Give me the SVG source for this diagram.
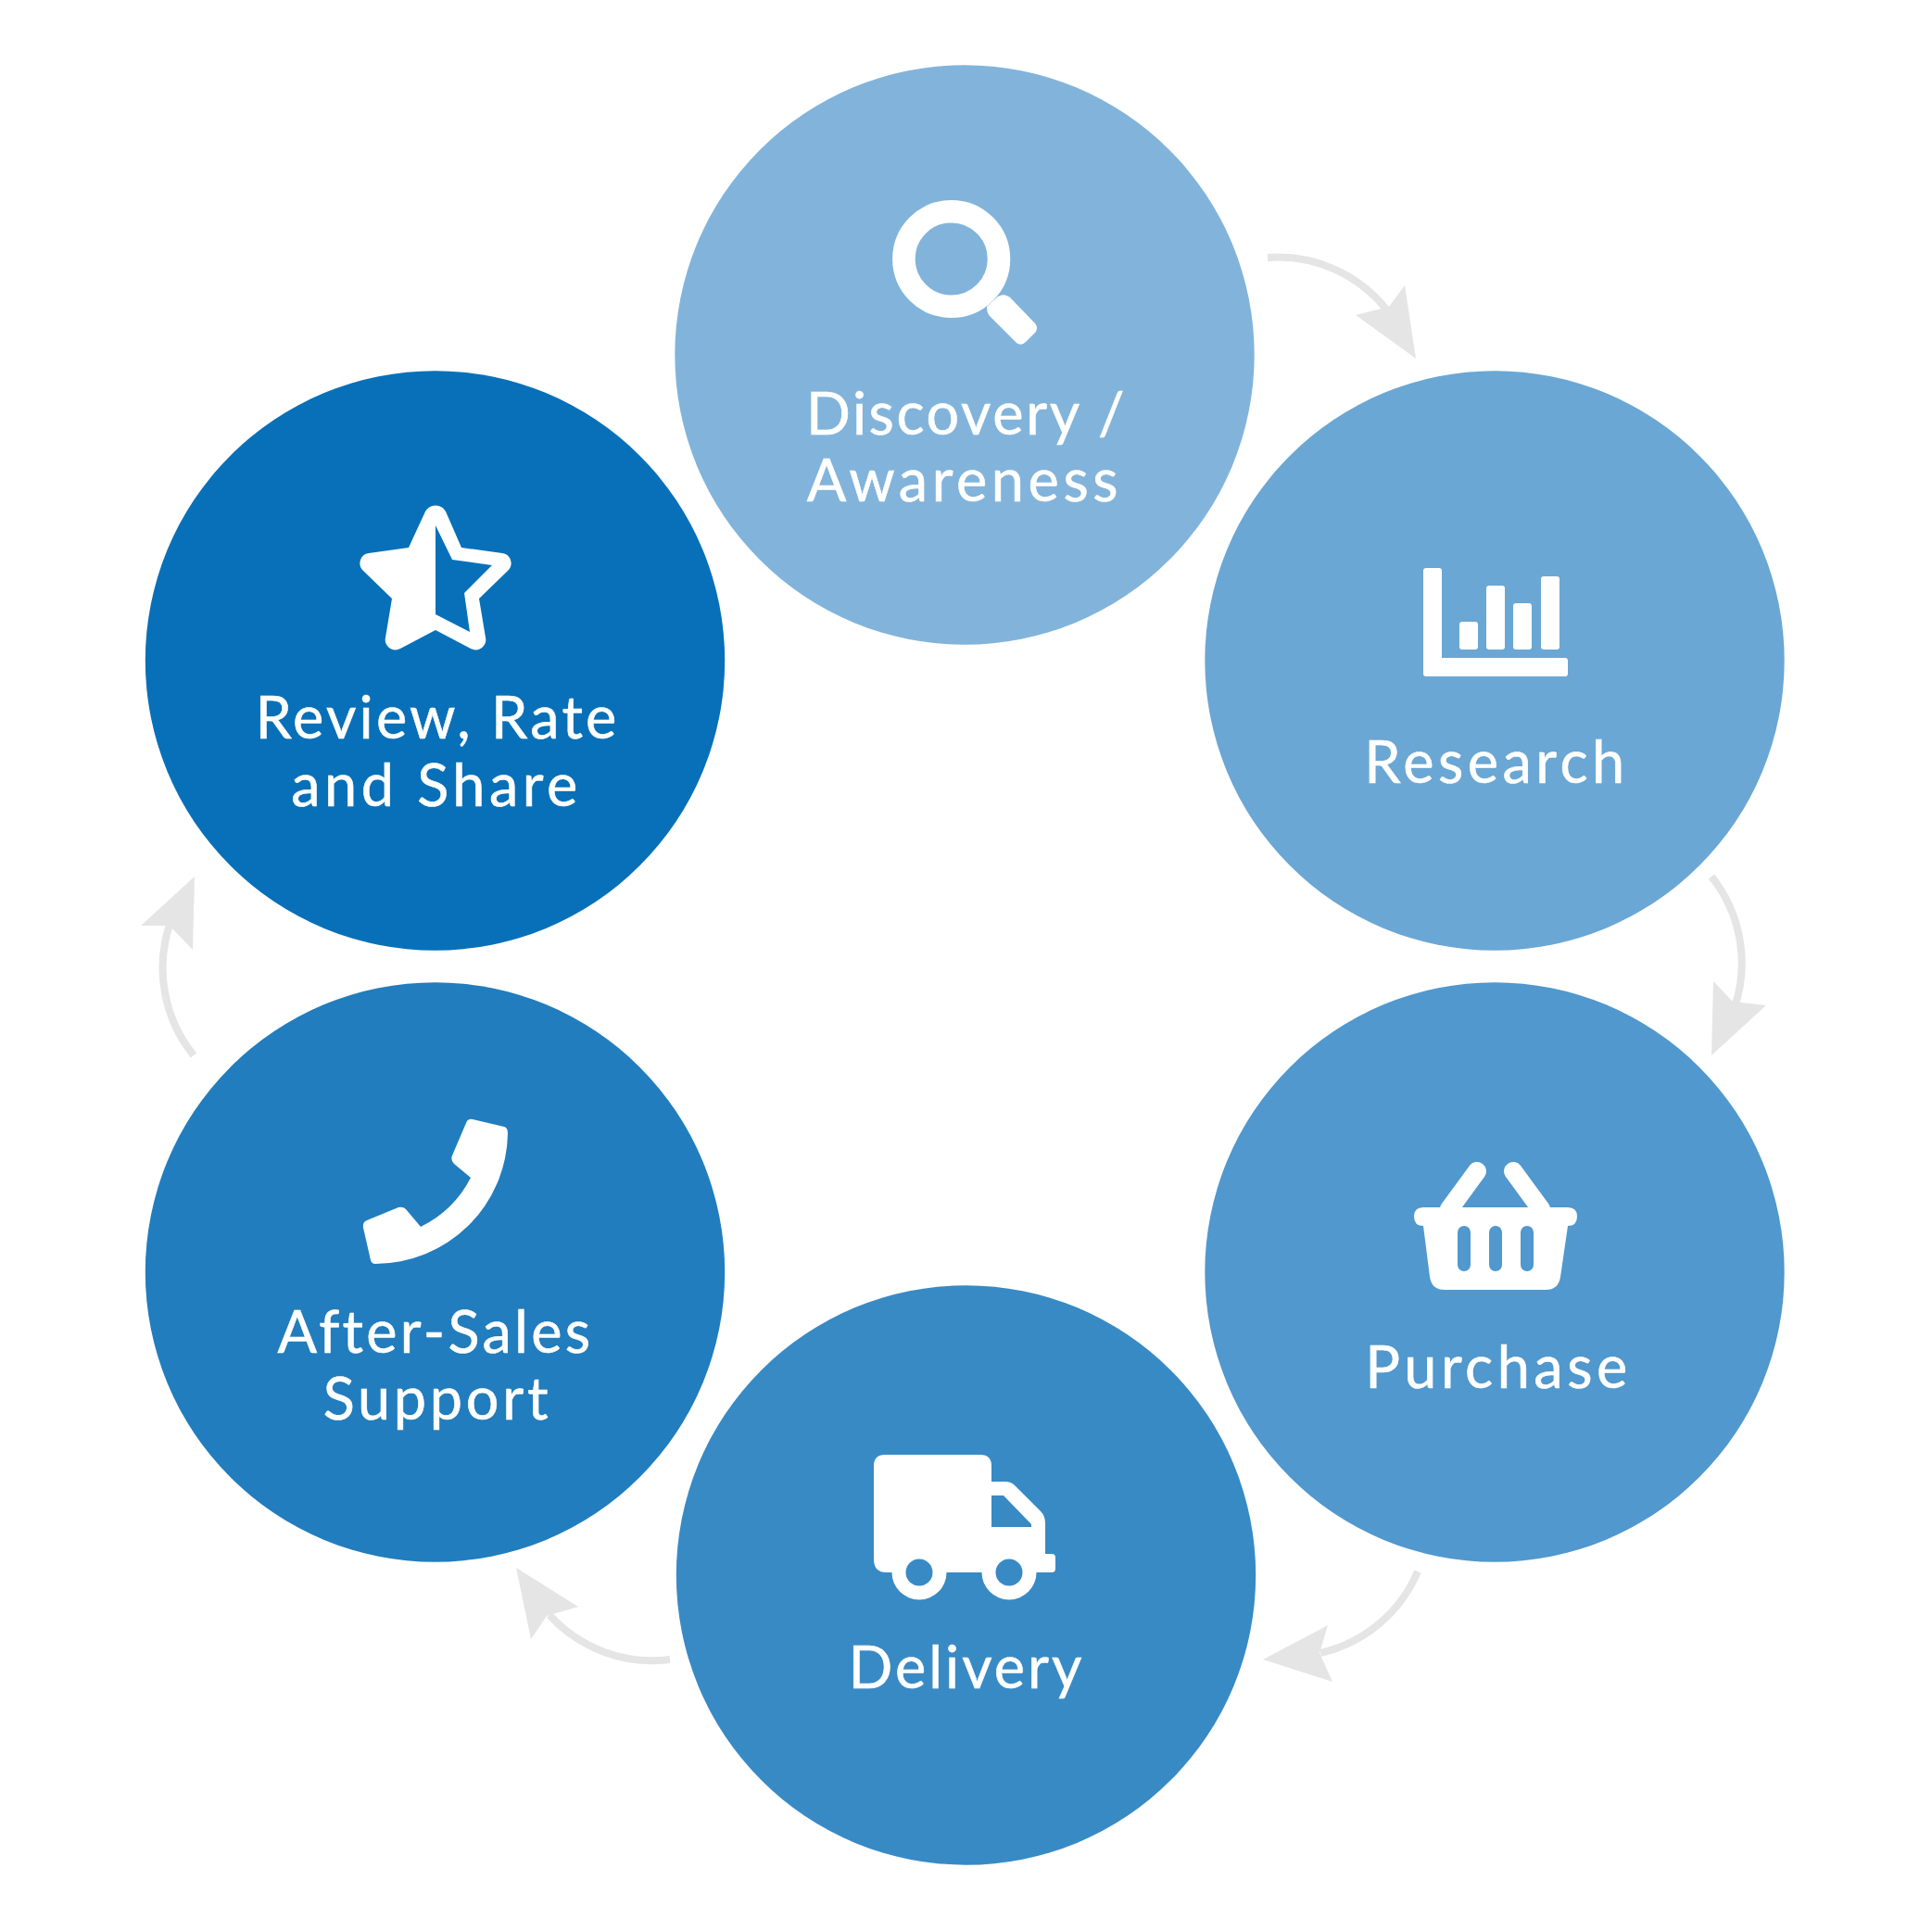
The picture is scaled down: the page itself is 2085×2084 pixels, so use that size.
<svg xmlns="http://www.w3.org/2000/svg" width="2085" height="2084" viewBox="0 0 2085 2084">
<style>
.lbl{font-family:"Lato","Liberation Sans",sans-serif;font-size:63px;fill:#fff;stroke:#fff;stroke-width:0.6px;text-anchor:middle}
.ic{fill:#fff}
.con{fill:none;stroke:#e5e5e5;stroke-width:8}
.hd{fill:#e5e5e5}
</style>
<rect width="2085" height="2084" fill="#fff"/>
<g id="connectors">
<path class="con" d="M1368 278A150 150 0 0 1 1497 335"/><polygon class="hd" points="1528,387 1516,308 1499,331 1463,340"/>
<path class="con" d="M1847 946A150 150 0 0 1 1873 1084"/><polygon class="hd" points="1847,1139 1849,1059 1870,1081 1906,1085"/>
<path class="con" d="M1530 1696A150 150 0 0 1 1425 1784"/><polygon class="hd" points="1363,1791 1433,1754 1424,1784 1438,1815"/>
<path class="con" d="M723 1791A150 150 0 0 1 593 1743"/><polygon class="hd" points="557,1692 573,1769 590,1744 624,1734"/>
<path class="con" d="M209 1139A150 150 0 0 1 183 998"/><polygon class="hd" points="210,946 152,999 183,999 208,1025"/>
</g>
<g id="discovery"><circle cx="1041" cy="383" r="312.7" fill="#82b4db"/>
<circle cx="1026.7" cy="279.500" r="51.300" fill="none" stroke="#fff" stroke-width="24.500"/>
<path class="ic" d="M1065 331L1077 320Q1084 316 1090 321L1117 349Q1121 354 1117 359L1107 369Q1102 374 1097 370L1068 341Q1065 338 1065 331Z"/>
<text class="lbl" x="1043" y="469" style="letter-spacing:2.600px">Discovery /</text><text class="lbl" x="1041" y="541" style="letter-spacing:4.600px">Awareness</text></g>
<g id="research"><circle cx="1613" cy="713" r="312.7" fill="#6aa7d4"/>
<path class="ic" d="M1539 613H1553Q1556 613 1556 616V710H1689Q1692 710 1692 713V727Q1692 730 1689 730H1539Q1536 730 1536 727V616Q1536 613 1539 613Z"/>
<rect class="ic" x="1575" y="671" width="20" height="30" rx="3"/><rect class="ic" x="1604" y="632" width="20" height="69" rx="3"/><rect class="ic" x="1633" y="651" width="20" height="50" rx="3"/><rect class="ic" x="1663" y="622" width="20" height="79" rx="3"/>
<text class="lbl" x="1615" y="845" style="letter-spacing:4.500px">Research</text></g>
<g id="purchase"><circle cx="1613" cy="1373" r="312.7" fill="#5098cd"/>
<path fill="none" stroke="#fff" stroke-width="20" stroke-linecap="round" d="M1594 1264L1564 1305M1633 1264L1663 1305"/>
<path class="ic" fill-rule="evenodd" d="M1536 1303H1692Q1702 1303 1702 1313Q1702 1323 1692 1323L1684 1378Q1682 1392 1668 1392H1559Q1545 1392 1543 1378L1536 1323Q1526 1323 1526 1313Q1526 1303 1536 1303ZM1573 1330V1365A7 7 0 0 0 1587 1365V1330A7 7 0 0 0 1573 1330ZM1607 1330V1365A7 7 0 0 0 1621 1365V1330A7 7 0 0 0 1607 1330ZM1641 1330V1365A7 7 0 0 0 1655 1365V1330A7 7 0 0 0 1641 1330Z"/>
<text class="lbl" x="1617" y="1498" style="letter-spacing:4.500px">Purchase</text></g>
<g id="delivery"><circle cx="1042.500" cy="1700" r="312.7" fill="#388ac5"/>
<path class="ic" fill-rule="evenodd" d="M955 1570H1058Q1070 1570 1070 1582V1599H1085Q1091 1599 1095 1603L1123 1631Q1128 1636 1128 1644V1677H1135Q1139 1677 1139 1681V1693Q1139 1697 1135 1697H1118.500A29.500 29.500 0 0 1 1059.500 1697H1021.500A29.500 29.500 0 0 1 962.500 1697H957Q943 1697 943 1683V1582Q943 1570 955 1570ZM1070 1614V1648H1113V1645L1083 1614Z"/>
<circle cx="992" cy="1697" r="14.500" fill="#388ac5"/><circle cx="1089" cy="1697" r="14.500" fill="#388ac5"/>
<text class="lbl" x="1043" y="1822" style="letter-spacing:3px">Delivery</text></g>
<g id="support"><circle cx="469.500" cy="1373" r="312.7" fill="#217dbd"/>
<path class="ic" d="M510 1208L544 1216Q548 1217 548 1223A143 143 0 0 1 405 1364Q401 1364 400 1360L392 1325Q391 1319 396 1317L430 1303Q435 1302 438 1305L454 1324A120 120 0 0 0 508 1271L490 1256Q486 1252 488 1247L503 1212Q505 1207 510 1208Z"/>
<text class="lbl" x="470" y="1460" style="letter-spacing:3.300px">After-Sales</text><text class="lbl" x="472" y="1532" style="letter-spacing:3.700px">Support</text></g>
<g id="review"><circle cx="469.500" cy="713" r="312.7" fill="#0870b8"/>
<path class="ic" fill-rule="evenodd" d="M459 552A12.500 12.500 0 0 1 481 552L498 591L542 597A11 11 0 0 1 548 616L517 646L524 688A11 11 0 0 1 508 700L470 680L432 700A11 11 0 0 1 416 688L423 646L392 616A11 11 0 0 1 398 597L441 591ZM470 567V663L507 682L501 640L531 610L488 604Z"/>
<text class="lbl" x="472" y="797" style="letter-spacing:3.200px">Review, Rate</text><text class="lbl" x="471" y="870" style="letter-spacing:4.500px">and Share</text></g>
</svg>
